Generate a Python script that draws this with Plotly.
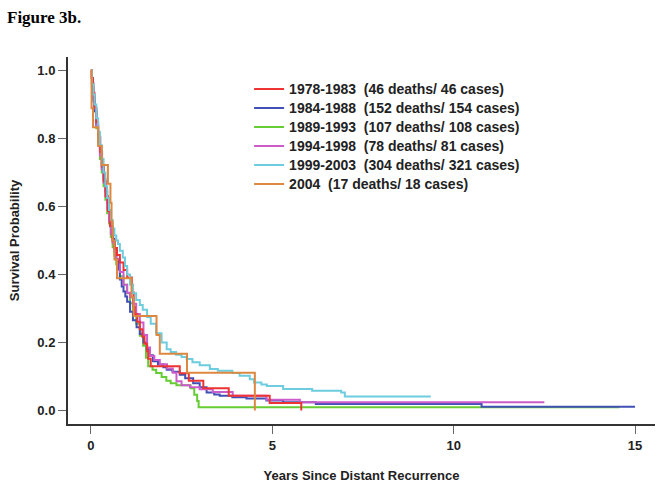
import plotly.graph_objects as go

# ---- data ----
series_names = [
    "1978-1983\u00a0\u00a0(46 deaths/ 46 cases)",
    "1984-1988\u00a0\u00a0(152 deaths/ 154 cases)",
    "1989-1993\u00a0\u00a0(107 deaths/ 108 cases)",
    "1994-1998\u00a0\u00a0(78 deaths/ 81 cases)",
    "1999-2003\u00a0\u00a0(304 deaths/ 321 cases)",
    "2004\u00a0\u00a0(17 deaths/ 18 cases)",
]

red_t = [0, 0.02, 0.06, 0.10, 0.15, 0.20, 0.26, 0.31, 0.36, 0.41, 0.47, 0.53, 0.60, 0.66, 0.72, 0.80, 0.90, 1.00,
         1.13, 1.15, 1.18, 1.21, 1.28, 1.35, 1.42, 1.48, 1.55, 1.58, 1.65, 2.45, 2.70, 3.10, 3.80, 4.93, 5.80]
red_s = [1.0, 0.978, 0.935, 0.891, 0.848, 0.804, 0.761, 0.717, 0.674, 0.630, 0.587, 0.543, 0.500, 0.478, 0.457, 0.435, 0.413, 0.391,
         0.370, 0.348, 0.304, 0.283, 0.261, 0.239, 0.217, 0.196, 0.174, 0.152, 0.130, 0.109, 0.087, 0.065, 0.043, 0.022, 0.0]

blue_t = [0, 0.03, 0.07, 0.10, 0.15, 0.20, 0.25, 0.30, 0.35, 0.40, 0.45, 0.50, 0.55, 0.60, 0.65, 0.70, 0.75, 0.80,
          0.85, 0.90, 0.95, 1.00, 1.08, 1.16, 1.26, 1.35, 1.45, 1.54, 1.62, 1.71, 1.85, 2.00, 2.09, 2.25, 2.45, 2.60,
          2.82, 3.00, 3.19, 3.40, 3.55, 3.90, 4.29, 4.84, 5.30, 6.20, 10.77, 15.0]
blue_s = [1.0, 0.95, 0.91, 0.88, 0.84, 0.80, 0.76, 0.72, 0.68, 0.645, 0.61, 0.575, 0.54, 0.505, 0.475, 0.445, 0.415, 0.385,
          0.365, 0.35, 0.335, 0.32, 0.29, 0.265, 0.245, 0.225, 0.20, 0.18, 0.162, 0.145, 0.135, 0.127, 0.12, 0.114, 0.105, 0.095,
          0.08, 0.068, 0.053, 0.047, 0.043, 0.039, 0.035, 0.029, 0.024, 0.019, 0.011, 0.011]

green_t = [0, 0.03, 0.07, 0.10, 0.15, 0.20, 0.25, 0.30, 0.35, 0.40, 0.45, 0.50, 0.55, 0.60, 0.65, 0.70, 0.80, 0.90, 1.00,
           1.08, 1.16, 1.25, 1.35, 1.44, 1.52, 1.58, 1.70, 1.80, 1.95, 2.08, 2.20, 2.36, 2.75, 2.85, 2.93, 2.97, 14.57]
green_s = [1.0, 0.96, 0.92, 0.88, 0.83, 0.79, 0.74, 0.70, 0.66, 0.62, 0.58, 0.55, 0.51, 0.48, 0.455, 0.43, 0.395, 0.37, 0.345,
           0.315, 0.286, 0.255, 0.22, 0.19, 0.155, 0.13, 0.12, 0.11, 0.098, 0.087, 0.08, 0.074, 0.065, 0.046, 0.028, 0.0093, 0.0093]

magenta_t = [0, 0.03, 0.07, 0.10, 0.15, 0.20, 0.25, 0.30, 0.35, 0.40, 0.45, 0.50, 0.55, 0.60, 0.65, 0.70, 0.80, 0.90, 1.00,
             1.08, 1.16, 1.25, 1.35, 1.45, 1.55, 1.63, 1.75, 1.90, 2.10, 2.26, 2.36, 2.50, 2.73, 3.00, 3.36, 3.91, 4.84, 5.76, 12.5]
magenta_s = [1.0, 0.963, 0.926, 0.889, 0.84, 0.79, 0.75, 0.71, 0.67, 0.63, 0.593, 0.556, 0.52, 0.494, 0.469, 0.444, 0.407, 0.37, 0.346,
             0.333, 0.314, 0.284, 0.259, 0.222, 0.185, 0.16, 0.148, 0.136, 0.123, 0.111, 0.086, 0.074, 0.068, 0.062, 0.054, 0.043, 0.031, 0.024, 0.024]

cyan_t = [0, 0.03, 0.07, 0.10, 0.15, 0.20, 0.25, 0.30, 0.35, 0.40, 0.45, 0.50, 0.55, 0.60, 0.65, 0.70, 0.75, 0.80, 0.88, 0.94,
          1.00, 1.08, 1.16, 1.25, 1.35, 1.43, 1.55, 1.65, 1.80, 1.95, 2.09, 2.20, 2.35, 2.50, 2.64, 2.80, 3.00, 3.28, 3.50,
          3.90, 4.10, 4.38, 4.50, 4.70, 4.85, 5.30, 6.10, 6.90, 7.00, 9.37]
cyan_s = [1.0, 0.96, 0.93, 0.90, 0.86, 0.82, 0.78, 0.74, 0.70, 0.66, 0.625, 0.59, 0.56, 0.535, 0.515, 0.50, 0.49, 0.47, 0.45, 0.425,
          0.40, 0.37, 0.345, 0.325, 0.31, 0.296, 0.275, 0.255, 0.227, 0.20, 0.18, 0.172, 0.164, 0.157, 0.151, 0.142, 0.133, 0.122, 0.117,
          0.11, 0.102, 0.092, 0.082, 0.076, 0.072, 0.063, 0.058, 0.053, 0.041, 0.041]

orange_t = [0, 0.02, 0.06, 0.20, 0.30, 0.47, 0.54, 0.57, 0.60, 0.65, 0.72, 1.12, 1.18, 1.81, 1.90, 2.65, 4.52]
orange_s = [1.0, 0.889, 0.833, 0.778, 0.722, 0.667, 0.611, 0.556, 0.50, 0.444, 0.389, 0.333, 0.278, 0.222, 0.167, 0.111, 0.0]

x_ticks = [0, 5, 10, 15]
y_ticks = [0.0, 0.2, 0.4, 0.6, 0.8, 1.0]

# ---- styling ----
colors = ["#ee3333", "#4050b5", "#66cc33", "#cc5ccc", "#6dccdd", "#dd8840"]
series = [(red_t, red_s), (blue_t, blue_s), (green_t, green_s),
          (magenta_t, magenta_s), (cyan_t, cyan_s), (orange_t, orange_s)]
draw_order = [2, 1, 3, 0, 4, 5]

fig = go.Figure()
for i in draw_order:
    t, s = series[i]
    fig.add_trace(go.Scatter(
        x=t, y=s, mode="lines",
        name='<span style="font-size:14px">' + series_names[i] + "</span>",
        line=dict(color=colors[i], width=2, shape="hv"),
        legendrank=i + 1,
    ))

axis_font = dict(family="Liberation Sans, Arial, sans-serif", size=13, color="#222", weight="bold")

fig.update_layout(
    width=664, height=490,
    margin=dict(l=68, r=9, t=57, b=61),
    paper_bgcolor="white", plot_bgcolor="white",
    showlegend=True,
    legend=dict(
        x=0.3085, y=0.952, xanchor="left", yanchor="top",
        bgcolor="rgba(0,0,0,0)", borderwidth=0,
        font=dict(family="Liberation Sans, Arial, sans-serif", size=12, color="#222", weight="bold"),
        traceorder="normal",
    ),
    xaxis=dict(
        range=[-0.63, 15.55], tickvals=x_ticks, ticktext=[str(v) for v in x_ticks],
        showgrid=False, zeroline=False, showline=True, linecolor="#333", linewidth=2,
        ticks="outside", ticklen=8, tickwidth=1, tickcolor="#666",
        tickfont=axis_font,
        title=dict(text="Years Since Distant Recurrence", font=axis_font, standoff=19),
    ),
    yaxis=dict(
        range=[-0.04, 1.04], tickvals=y_ticks, tickformat=".1f",
        showgrid=False, zeroline=False, showline=True, linecolor="#333", linewidth=2,
        ticks="outside", ticklen=8, tickwidth=1, tickcolor="#666",
        tickfont=axis_font,
        title=dict(text="Survival Probability", font=axis_font, standoff=15),
    ),
    annotations=[dict(
        text="Figure 3b.", xref="paper", yref="paper",
        x=-0.107, y=1.1075, xanchor="left", yanchor="middle", showarrow=False,
        font=dict(family="Liberation Serif, Times New Roman, serif", size=17, color="#000", weight="bold"),
    )],
)

fig.write_html("out.html", config={"displayModeBar": False},
               post_script="document.body.style.margin='0px';")
